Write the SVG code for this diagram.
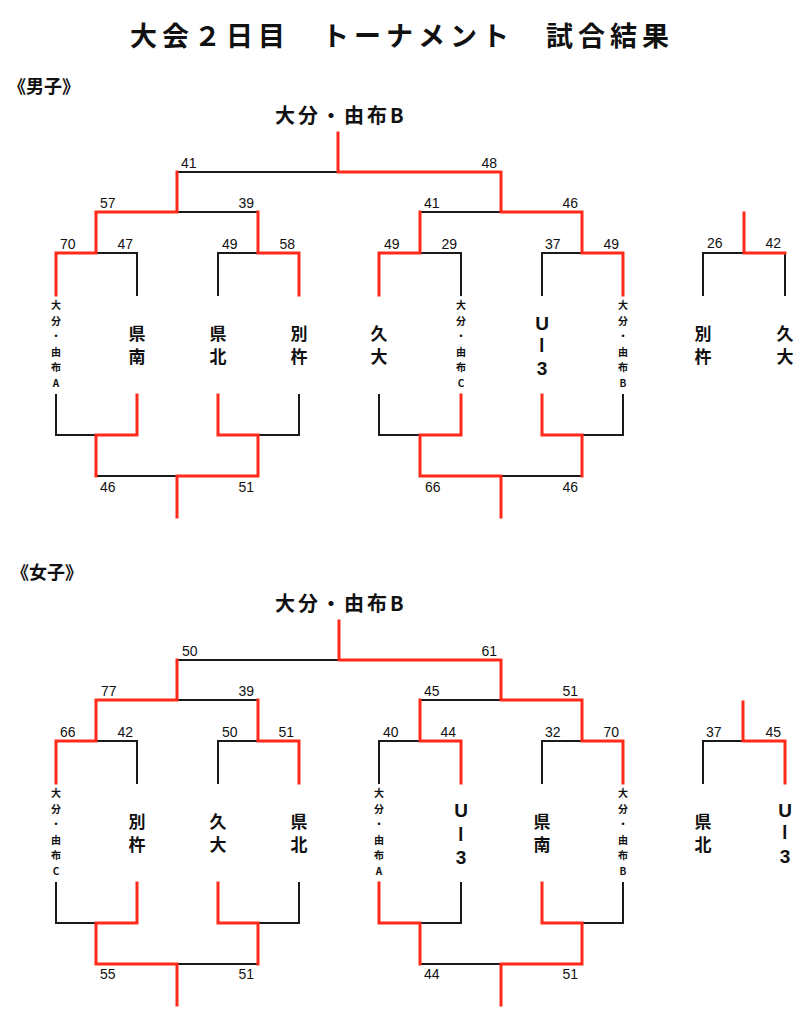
<svg xmlns="http://www.w3.org/2000/svg" width="808" height="1024" viewBox="0 0 808 1024">
<style>
.bk{fill:none;stroke:#1a1a1a;stroke-width:2;stroke-linecap:square;stroke-linejoin:miter}
.rd{fill:none;stroke:#ff2a1a;stroke-width:3;stroke-linecap:square;stroke-linejoin:miter}
.jp{font-family:"Noto Sans CJK JP","Noto Sans",sans-serif;font-weight:bold;fill:#111}
.title{font-size:27px;letter-spacing:5px}
.sec{font-size:18px}
.champ{font-size:20px;letter-spacing:3px}
.team{font-size:17px;text-anchor:middle}
.small{font-size:10px;text-anchor:middle}
.u3{font-family:"Liberation Sans",Arial,sans-serif;font-weight:bold;font-size:19px;text-anchor:middle;fill:#111}
.bar{font-family:"Noto Sans CJK JP",sans-serif;font-weight:bold;font-size:17px;text-anchor:middle;dominant-baseline:central;fill:#111}
.sc{font-family:"Liberation Sans",Arial,sans-serif;font-size:14px;fill:#111}
.sce{font-family:"Liberation Sans",Arial,sans-serif;font-size:14px;fill:#111;text-anchor:end}
</style>
<rect width="808" height="1024" fill="#fff"/>

<g id="title"><text class="jp title" x="130" y="46">大会２日目　トーナメント　試合結果</text></g>
<g id="heading-men"><text class="jp sec" x="8" y="93">《男子》</text></g>
<g id="heading-women"><text class="jp sec" x="11" y="579">《女子》</text></g>
<g id="champ-men"><text class="jp champ" x="275" y="123">大分・由布B</text></g>
<g id="champ-women"><text class="jp champ" x="275" y="611">大分・由布B</text></g>

<g id="connectors">
<!-- MEN black -->
<path class="bk" d="M177 172H338 M177 212H258 M96 253H137V295 M218 295V253H258 M420 212H501 M420 253H461V295 M542 295V253H582"/>
<path class="bk" d="M56 395V435H96 M258 435H299V395 M96 476H177 M379 395V435H420 M501 476H582 M582 435H623V395"/>
<path class="bk" d="M703 295V253H744 M785 253V295"/>
<!-- MEN red -->
<path class="rd" d="M338 133V172H501V212H582V253H623V295"/>
<path class="rd" d="M177 172V212H96V253H56V295"/>
<path class="rd" d="M258 212V253H299V295"/>
<path class="rd" d="M420 212V253H379V295"/>
<path class="rd" d="M137 395V435H96V476"/>
<path class="rd" d="M218 395V435H258V476H177V517"/>
<path class="rd" d="M461 395V435H420V476H501V517"/>
<path class="rd" d="M542 395V435H582V476"/>
<path class="rd" d="M744 213V253H785"/>
<!-- WOMEN black -->
<path class="bk" d="M177 660H339 M420 700H501 M542 783V741H582 M379 783V741H420 M177 700H258 M96 741H137V783 M218 783V741H258"/>
<path class="bk" d="M56 883V923H96 M177 964H258 M258 923H299V883 M420 923H461V883 M420 964H501 M582 923H623V883"/>
<path class="bk" d="M703 783V741H743"/>
<!-- WOMEN red -->
<path class="rd" d="M339 621V660H501V700H582V741H623V783"/>
<path class="rd" d="M420 700V741H461V783"/>
<path class="rd" d="M177 660V700H96V741H56V783"/>
<path class="rd" d="M258 700V741H299V783"/>
<path class="rd" d="M137 883V923H96V964H177V1005"/>
<path class="rd" d="M218 883V923H258V964"/>
<path class="rd" d="M379 883V923H420V964"/>
<path class="rd" d="M542 883V923H582V964H501V1005"/>
<path class="rd" d="M743 702V741H785V783"/>
</g>

<g id="scores-men">
<text class="sc" x="181" y="168">41</text><text class="sce" x="497" y="168">48</text>
<text class="sc" x="100" y="208">57</text><text class="sce" x="254" y="208">39</text>
<text class="sc" x="424" y="208">41</text><text class="sce" x="578" y="208">46</text>
<text class="sc" x="60" y="249">70</text><text class="sce" x="133" y="249">47</text>
<text class="sc" x="222" y="249">49</text><text class="sce" x="295" y="249">58</text>
<text class="sc" x="384" y="249">49</text><text class="sce" x="457" y="249">29</text>
<text class="sc" x="545" y="249">37</text><text class="sce" x="619" y="249">49</text>
<text class="sc" x="707" y="248">26</text><text class="sce" x="781" y="248">42</text>
<text class="sc" x="100" y="492">46</text><text class="sce" x="254" y="492">51</text>
<text class="sc" x="425" y="492">66</text><text class="sce" x="578" y="492">46</text>
</g>
<g id="scores-women">
<text class="sc" x="182" y="656">50</text><text class="sce" x="497" y="656">61</text>
<text class="sc" x="101" y="696">77</text><text class="sce" x="254" y="696">39</text>
<text class="sc" x="424" y="696">45</text><text class="sce" x="578" y="696">51</text>
<text class="sc" x="60" y="737">66</text><text class="sce" x="133" y="737">42</text>
<text class="sc" x="222" y="737">50</text><text class="sce" x="294" y="737">51</text>
<text class="sc" x="383" y="737">40</text><text class="sce" x="456" y="737">44</text>
<text class="sc" x="545" y="737">32</text><text class="sce" x="619" y="737">70</text>
<text class="sc" x="706" y="737">37</text><text class="sce" x="781" y="737">45</text>
<text class="sc" x="100" y="979">55</text><text class="sce" x="254" y="979">51</text>
<text class="sc" x="424" y="979">44</text><text class="sce" x="578" y="979">51</text>
</g>

<!-- MEN teams -->
<g id="m-oitayufu-a"><text class="jp small"><tspan x="56" y="309">大</tspan><tspan x="56" y="324.5">分</tspan><tspan x="56" y="340">・</tspan><tspan x="56" y="355.5">由</tspan><tspan x="56" y="371">布</tspan><tspan x="56" y="387">A</tspan></text></g>
<g id="m-kennan"><text class="jp team"><tspan x="137" y="339.5">県</tspan><tspan x="137" y="362.5">南</tspan></text></g>
<g id="m-kenhoku"><text class="jp team"><tspan x="218" y="339.5">県</tspan><tspan x="218" y="362.5">北</tspan></text></g>
<g id="m-beppu"><text class="jp team"><tspan x="299" y="339.5">別</tspan><tspan x="299" y="362.5">杵</tspan></text></g>
<g id="m-kyudai"><text class="jp team"><tspan x="379" y="339.5">久</tspan><tspan x="379" y="362.5">大</tspan></text></g>
<g id="m-oitayufu-c"><text class="jp small"><tspan x="461" y="309">大</tspan><tspan x="461" y="324.5">分</tspan><tspan x="461" y="340">・</tspan><tspan x="461" y="355.5">由</tspan><tspan x="461" y="371">布</tspan><tspan x="461" y="387">C</tspan></text></g>
<g id="m-u3"><text class="u3" x="542" y="330">U</text><text class="bar" x="542" y="345" transform="rotate(90 542 345)">ー</text><text class="u3" x="542" y="375">3</text></g>
<g id="m-oitayufu-b"><text class="jp small"><tspan x="623" y="309">大</tspan><tspan x="623" y="324.5">分</tspan><tspan x="623" y="340">・</tspan><tspan x="623" y="355.5">由</tspan><tspan x="623" y="371">布</tspan><tspan x="623" y="387">B</tspan></text></g>
<g id="m-beppu-2"><text class="jp team"><tspan x="703" y="339.5">別</tspan><tspan x="703" y="362.5">杵</tspan></text></g>
<g id="m-kyudai-2"><text class="jp team"><tspan x="785" y="339.5">久</tspan><tspan x="785" y="362.5">大</tspan></text></g>

<!-- WOMEN teams -->
<g id="w-oitayufu-c"><text class="jp small"><tspan x="56" y="797">大</tspan><tspan x="56" y="812.5">分</tspan><tspan x="56" y="828">・</tspan><tspan x="56" y="843.5">由</tspan><tspan x="56" y="859">布</tspan><tspan x="56" y="875">C</tspan></text></g>
<g id="w-beppu"><text class="jp team"><tspan x="137" y="828">別</tspan><tspan x="137" y="851">杵</tspan></text></g>
<g id="w-kyudai"><text class="jp team"><tspan x="218" y="828">久</tspan><tspan x="218" y="851">大</tspan></text></g>
<g id="w-kenhoku"><text class="jp team"><tspan x="299" y="828">県</tspan><tspan x="299" y="851">北</tspan></text></g>
<g id="w-oitayufu-a"><text class="jp small"><tspan x="379" y="797">大</tspan><tspan x="379" y="812.5">分</tspan><tspan x="379" y="828">・</tspan><tspan x="379" y="843.5">由</tspan><tspan x="379" y="859">布</tspan><tspan x="379" y="875">A</tspan></text></g>
<g id="w-u3"><text class="u3" x="461" y="817">U</text><text class="bar" x="461" y="834" transform="rotate(90 461 834)">ー</text><text class="u3" x="461" y="864">3</text></g>
<g id="w-kennan"><text class="jp team"><tspan x="542" y="828">県</tspan><tspan x="542" y="851">南</tspan></text></g>
<g id="w-oitayufu-b"><text class="jp small"><tspan x="623" y="797">大</tspan><tspan x="623" y="812.5">分</tspan><tspan x="623" y="828">・</tspan><tspan x="623" y="843.5">由</tspan><tspan x="623" y="859">布</tspan><tspan x="623" y="875">B</tspan></text></g>
<g id="w-kenhoku-2"><text class="jp team"><tspan x="703" y="828">県</tspan><tspan x="703" y="851">北</tspan></text></g>
<g id="w-u3-2"><text class="u3" x="785" y="817">U</text><text class="bar" x="785" y="832" transform="rotate(90 785 832)">ー</text><text class="u3" x="785" y="863">3</text></g>
</svg>
